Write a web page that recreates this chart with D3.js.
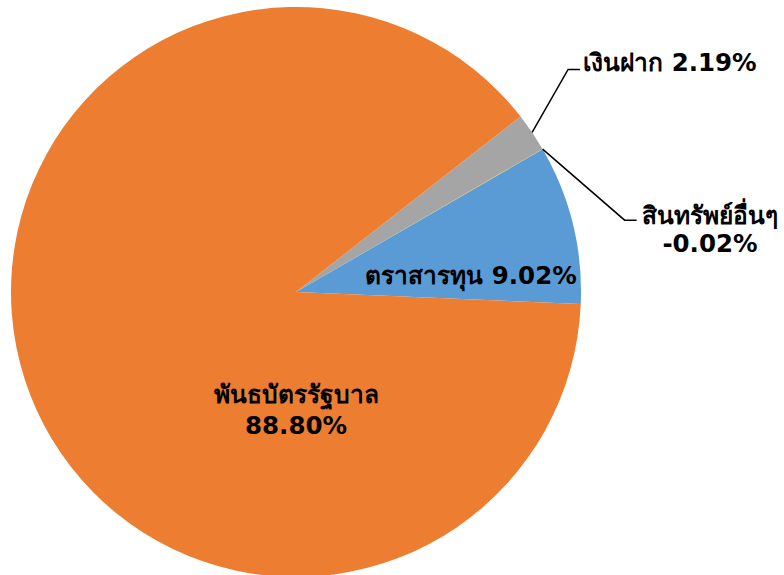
<!DOCTYPE html>
<html>
<head>
<meta charset="utf-8">
<script src="https://cdn.jsdelivr.net/npm/d3@7.9.0/dist/d3.min.js"></script>
<style>
  body { margin: 0; background: #fff; }
  text { font-family: Tahoma, "DejaVu Sans", "Noto Sans", sans-serif; font-weight: bold; fill: #000; }
</style>
</head>
<body>
<div id="chart"></div>
<script>
// clockwise order starting just above the gray slice
const categories = ['เงินฝาก', 'สินทรัพย์อื่นๆ', 'ตราสารทุน', 'พันธบัตรรัฐบาล'];
const values = [2.19, -0.02, 9.02, 88.80];
const colors = ['#A5A5A5', '#FFC000', '#5B9BD5', '#ED7D31'];

const width = 784;
const height = 575;
const cx = 296, cy = 292, radius = 285;

const data = categories.map((c, i) => ({ name: c, value: values[i], color: colors[i] }));

const svg = d3.select('#chart')
  .append('svg')
  .attr('width', width)
  .attr('height', height);

const g = svg.append('g').attr('transform', `translate(${cx},${cy})`);

const start = 52 * Math.PI / 180;
const pie = d3.pie()
  .sort(null)
  .value((d) => Math.abs(d.value))
  .startAngle(start)
  .endAngle(start + 2 * Math.PI);

const arcs = pie(data);
const arc = d3.arc().innerRadius(0).outerRadius(radius);

g.selectAll('path')
  .data(arcs)
  .join('path')
  .attr('d', arc)
  .attr('fill', (d) => d.data.color);

const fmt = (v) => v.toFixed(2) + '%';
const pt = (ang, r) => [r * Math.sin(ang), -r * Math.cos(ang)];
const fs = '24.5px';

// gray label with leader
const gray = arcs[0];
const gp = pt((gray.startAngle + gray.endAngle) / 2, radius);
const gElbow = [gp[0] + 36, gp[1] - 63];
g.append('polyline')
  .attr('points', [gp, gElbow, [gElbow[0] + 12, gElbow[1]]].map((p) => p.join(',')).join(' '))
  .attr('fill', 'none')
  .attr('stroke', '#000')
  .attr('stroke-width', 1.5);
g.append('text')
  .attr('x', gElbow[0] + 15)
  .attr('y', gElbow[1] - 7)
  .attr('dominant-baseline', 'central')
  .style('font-size', fs)
  .text(`${gray.data.name} ${fmt(gray.data.value)}`);

// other label with leader
const other = arcs[1];
const op = pt((other.startAngle + other.endAngle) / 2, radius);
const oElbow = [op[0] + 82, op[1] + 71];
g.append('polyline')
  .attr('points', [op, oElbow, [oElbow[0] + 12, oElbow[1]]].map((p) => p.join(',')).join(' '))
  .attr('fill', 'none')
  .attr('stroke', '#000')
  .attr('stroke-width', 1.5);
const otx = g.append('text')
  .attr('text-anchor', 'middle')
  .style('font-size', fs);
otx.append('tspan').attr('x', 414).attr('y', -68).text(other.data.name);
otx.append('tspan').attr('x', 414).attr('y', -40).text(fmt(other.data.value));

// blue label inside
const blue = arcs[2];
g.append('text')
  .attr('x', 175)
  .attr('y', -17)
  .attr('text-anchor', 'middle')
  .attr('dominant-baseline', 'central')
  .style('font-size', fs)
  .text(`${blue.data.name} ${fmt(blue.data.value)}`);

// orange label inside
const orange = arcs[3];
const ot = g.append('text')
  .attr('text-anchor', 'middle')
  .style('font-size', fs);
ot.append('tspan').attr('x', 0).attr('y', 111).text(orange.data.name);
ot.append('tspan').attr('x', 0).attr('y', 142).text(fmt(orange.data.value));
</script>
</body>
</html>
